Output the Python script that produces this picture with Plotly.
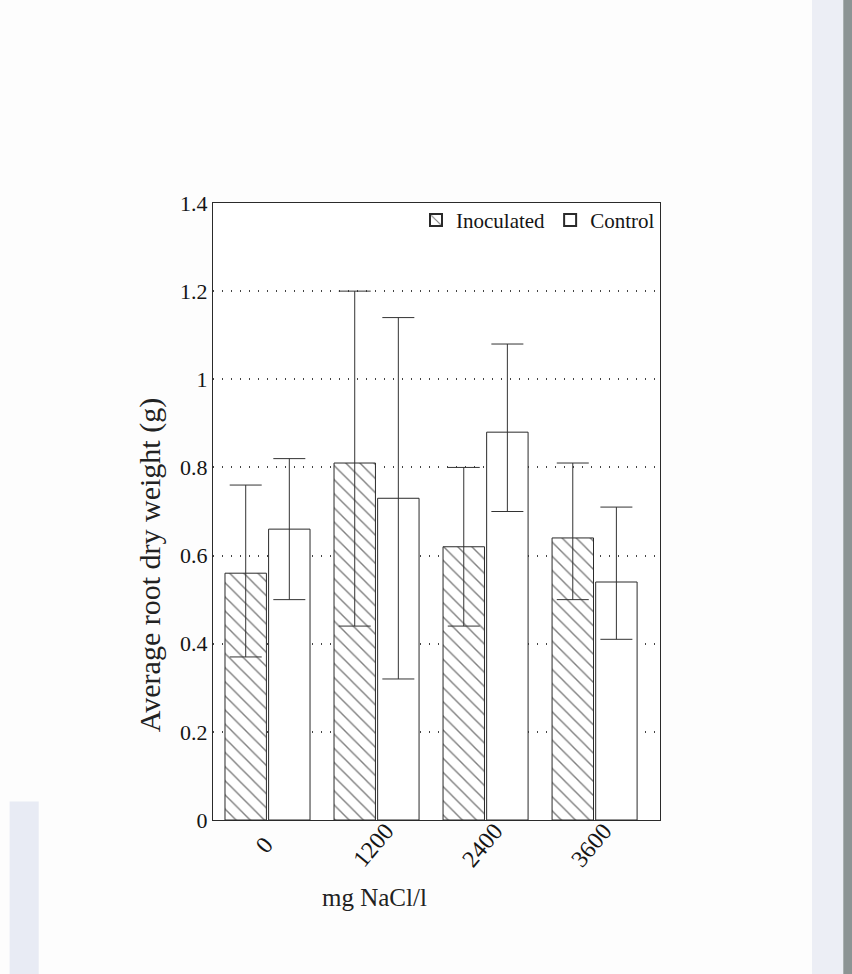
import plotly.graph_objects as go

categories = ["0", "1200", "2400", "3600"]
inoc_mean = [0.56, 0.81, 0.62, 0.64]
inoc_plus = [0.20, 0.39, 0.18, 0.17]
inoc_minus = [0.19, 0.37, 0.18, 0.14]
ctrl_mean = [0.66, 0.73, 0.88, 0.54]
ctrl_plus = [0.16, 0.41, 0.20, 0.17]
ctrl_minus = [0.16, 0.41, 0.18, 0.13]
y_ticks = [0, 0.2, 0.4, 0.6, 0.8, 1, 1.2, 1.4]
y_tick_text = ["0", "0.2", "0.4", "0.6", "0.8", "1", "1.2", "1.4"]

FONT = "Liberation Serif"
INK = "#2a2a2a"
TXT = "#151515"

fig = go.Figure()
fig.add_trace(go.Bar(
    name="Inoculated", x=categories, y=inoc_mean,
    marker=dict(color="white", line=dict(color=INK, width=1),
                pattern=dict(shape="\\", fgcolor="#000000", bgcolor="white", size=10, solidity=0.14)),
    error_y=dict(type="data", array=inoc_plus, arrayminus=inoc_minus, symmetric=False,
                 color="#333333", thickness=1, width=16),
))
fig.add_trace(go.Bar(
    name="Control", x=categories, y=ctrl_mean,
    marker=dict(color="white", line=dict(color=INK, width=1)),
    error_y=dict(type="data", array=ctrl_plus, arrayminus=ctrl_minus, symmetric=False,
                 color="#333333", thickness=1, width=16),
))

# rotated category labels, centred under each group (as in the reference)
cat_labels = [
    dict(text=c, xref="x", yref="paper", x=i - 0.03, y=-0.04, textangle=-50,
         xanchor="center", yanchor="middle", showarrow=False,
         font=dict(family=FONT, size=24, color=TXT))
    for i, c in enumerate(categories)
]

fig.update_layout(
    width=852, height=974,
    margin=dict(l=213, r=192, t=203, b=154),
    paper_bgcolor="#fdfdfd", plot_bgcolor="white",
    barmode="group", bargap=0.2, bargroupgap=0.05,
    font=dict(family=FONT, color=TXT, size=22),
    showlegend=True,
    legend=dict(orientation="h", x=1, xanchor="right", y=1.005, yanchor="top",
                bgcolor="rgba(0,0,0,0)", font=dict(family=FONT, size=21, color=TXT),
                itemsizing="constant"),
    xaxis=dict(range=[-0.5, 3.6], showline=True, mirror=True, showticklabels=False,
               linecolor=INK, linewidth=1, ticks="", showgrid=False),
    yaxis=dict(range=[0, 1.4], tickvals=y_ticks, ticktext=y_tick_text, showline=True, mirror=True,
               linecolor=INK, linewidth=1, ticks="", showgrid=True, gridcolor="#444444",
               griddash="1px,8px", gridwidth=1.5, zeroline=False,
               tickfont=dict(family=FONT, size=22, color=TXT)),
    annotations=cat_labels + [
        dict(text="mg NaCl/l", xref="paper", yref="paper", x=0.362, y=-0.126,
             xanchor="center", yanchor="middle", showarrow=False,
             font=dict(family=FONT, size=25, color="#222222")),
        dict(text="Average root dry weight (g)", xref="paper", yref="paper", x=-0.141, y=0.413,
             xanchor="center", yanchor="middle", textangle=-90, showarrow=False,
             font=dict(family=FONT, size=30, color="#222222")),
    ],
    shapes=[
        dict(type="rect", xref="paper", yref="paper", x0=1.34, x1=1.41, y0=-0.4, y1=1.4,
             fillcolor="#eceef5", line=dict(width=0), layer="below"),
        dict(type="rect", xref="paper", yref="paper", x0=1.41, x1=1.45, y0=-0.4, y1=1.4,
             fillcolor="#8c9494", line=dict(width=0), layer="below"),
        dict(type="rect", xref="paper", yref="paper", x0=-0.455, x1=-0.39, y0=-0.26, y1=0.03,
             fillcolor="#e8ebf4", line=dict(width=0), layer="below"),
    ],
)

fig.write_html("out.html")
